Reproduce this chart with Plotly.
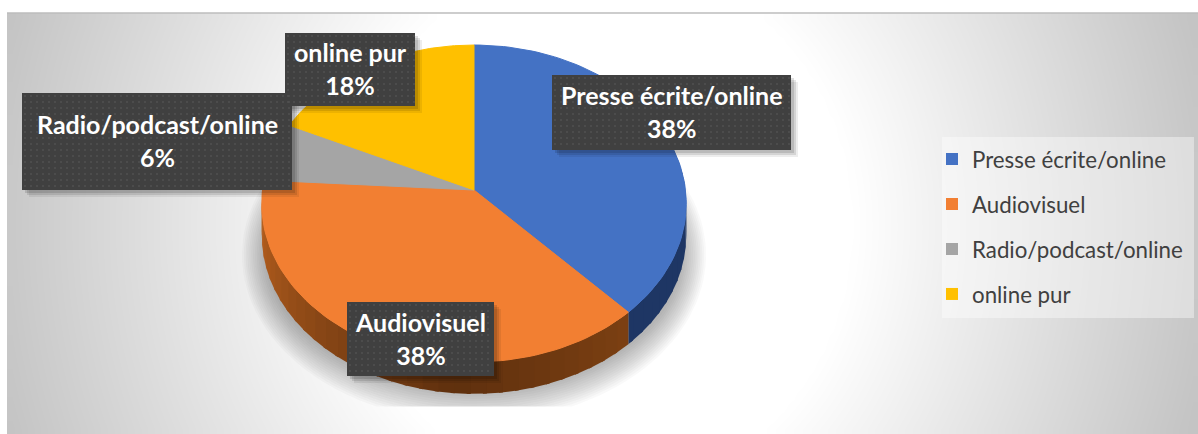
import numpy as np
import plotly.graph_objects as go

categories = ["Presse écrite/online", "Audiovisuel", "Radio/podcast/online", "online pur"]
values = [38, 38, 6, 18]
colors = ["#4472C4", "#F27F32", "#A5A5A5", "#FFC000"]

# label boxes (x0, x1, y0, y1) per category, in page pixels
label_boxes = {
    "online pur": (285, 415, 33, 106),
    "Radio/podcast/online": (22, 292, 93, 190),
    "Presse écrite/online": (552, 791, 75, 150),
    "Audiovisuel": (347, 494, 302, 376),
}

CX, CY, A, B, K, DEPTH = 474.0, 190.0, 211.5, 157.3, 0.085, 32.0


def rim(theta_deg):
    t = np.radians(np.asarray(theta_deg, dtype=float))
    X, Y = np.sin(t), np.cos(t)
    w = 1 + K * Y
    return CX + A * X / w, CY - B * Y / w


def hex_mix(c1, c2, f):
    a = [int(c1[i:i + 2], 16) for i in (1, 3, 5)]
    b = [int(c2[i:i + 2], 16) for i in (1, 3, 5)]
    m = [round(a[i] + (b[i] - a[i]) * f) for i in range(3)]
    return f"rgb({m[0]},{m[1]},{m[2]})"


fig = go.Figure()

# background gradient
gx = np.linspace(12, 1193, 119)
gy = np.linspace(18, 429, 42)
GX, GY = np.meshgrid(gx, gy)
d = np.sqrt(((GX - 600) / 595) ** 2 + ((GY - 225) / 636) ** 2)
shade = 255 - 59 * np.clip((d - 0.42) / (1.04 - 0.42), 0, 1)
fig.add_trace(go.Heatmap(x=gx, y=gy, z=shade, zmin=196, zmax=255, zsmooth="best", showscale=False,
                         colorscale=[[0, "rgb(196,196,196)"], [1, "rgb(255,255,255)"]], hoverinfo="skip"))


def add_poly(x, y, fill, line=None):
    fig.add_trace(go.Scatter(x=list(x), y=list(y), mode="lines", fill="toself", fillcolor=fill,
                             line=dict(color=line or "rgba(0,0,0,0)", width=1 if line else 0),
                             showlegend=False, hoverinfo="skip"))


# soft shadow under the pie
tt = np.linspace(0, 2 * np.pi, 160)
for grow in np.linspace(1.0, 0.0, 14):
    sx = 474 + (208 + 24 * grow) * np.sin(tt)
    sy = 255 + (137 + 30 * grow) * np.cos(tt)
    add_poly(sx, np.minimum(sy, 406.5), "rgba(60,60,60,0.03)")

# slices
edges = np.cumsum([0] + values) / sum(values) * 360

# side wall
for i, cat in enumerate(categories):
    a0, a1 = edges[i], edges[i + 1]
    lo, hi = max(a0, 75), min(a1, 285)
    if hi <= lo:
        continue
    steps = np.arange(lo, hi, 4.0).tolist() + [hi]
    for s0, s1 in zip(steps[:-1], steps[1:]):
        th = np.linspace(s0, min(s1 + 1.0, hi), 5)
        x, y = rim(th)
        mid = (s0 + s1) / 2
        if cat == categories[0]:
            col = "rgb(30,54,100)"
        else:
            if mid > 185:
                col = hex_mix("#5F300E", "#BC621F", min((mid - 185) / 85, 1))
            else:
                col = hex_mix("#5F300E", "#7C4012", (185 - mid) / 48)
        add_poly(np.r_[x, x[::-1]], np.r_[y, y[::-1] + DEPTH], col)

# top faces
for i, cat in enumerate(categories):
    th = np.linspace(edges[i], edges[i + 1], 80)
    x, y = rim(th)
    add_poly(np.r_[CX, x, CX], np.r_[CY, y, CY], colors[i], colors[i])

# legend panel
fig.add_shape(type="rect", x0=942, x1=1194, y0=137, y1=318, fillcolor="rgba(255,255,255,0.4)",
              line_width=0, layer="above")

# legend proxies
for cat, col in zip(categories, colors):
    fig.add_trace(go.Scatter(x=[None], y=[None], mode="markers", name=cat, legendgroup=cat,
                             marker=dict(symbol="square", size=14, color=col), hoverinfo="skip"))

# data labels
dots_x, dots_y = [], []
for cat, val in zip(categories, values):
    x0, x1, y0, y1 = label_boxes[cat]
    for off, al in ((7, 0.07), (5, 0.10), (3, 0.12)):
        add_poly([x0 + off, x1 + off, x1 + off, x0 + off, x0 + off],
                 [y0 + off, y0 + off, y1 + off, y1 + off, y0 + off], f"rgba(0,0,0,{al})")
for cat, val in zip(categories, values):
    x0, x1, y0, y1 = label_boxes[cat]
    add_poly([x0, x1, x1, x0, x0], [y0, y0, y1, y1, y0], "#404040")
    gxs = np.arange(x0 + 3, x1, 6.0)
    gys = np.arange(y0 + 3, y1, 6.0)
    mx, my = np.meshgrid(gxs, gys)
    dots_x += mx.ravel().tolist()
    dots_y += my.ravel().tolist()
    fig.add_annotation(x=(x0 + x1) / 2, y=(y0 + y1) / 2 - 1, text=f"<b>{cat}</b><br><b>{val}%</b>",
                       showarrow=False, xref="x", yref="y", align="center",
                       font=dict(family="Lato", size=25, color="white"))
fig.add_trace(go.Scatter(x=dots_x, y=dots_y, mode="markers", showlegend=False, hoverinfo="skip",
                         marker=dict(size=2, color="#505050", line_width=0)))

# top edge of the chart area
fig.add_shape(type="line", x0=7, x1=1198, y0=13, y1=13, line=dict(color="#BDBDBD", width=1.5), layer="above")

fig.update_layout(
    width=1198, height=434, margin=dict(l=0, r=0, t=0, b=0),
    paper_bgcolor="white", plot_bgcolor="white",
    xaxis=dict(range=[0, 1198], visible=False, fixedrange=True),
    yaxis=dict(range=[434, 0], visible=False, fixedrange=True),
    legend=dict(x=932 / 1198, xanchor="left", y=1 - 138 / 434, yanchor="top",
                bgcolor="rgba(0,0,0,0)", tracegroupgap=13, traceorder="grouped",
                itemsizing="constant", font=dict(family="Lato", size=22.3, color="#404040")),
    showlegend=True,
)

fig.write_html("out.html", config={"displayModeBar": False},
               post_script="document.body.style.margin='0';document.body.style.overflow='hidden';")
